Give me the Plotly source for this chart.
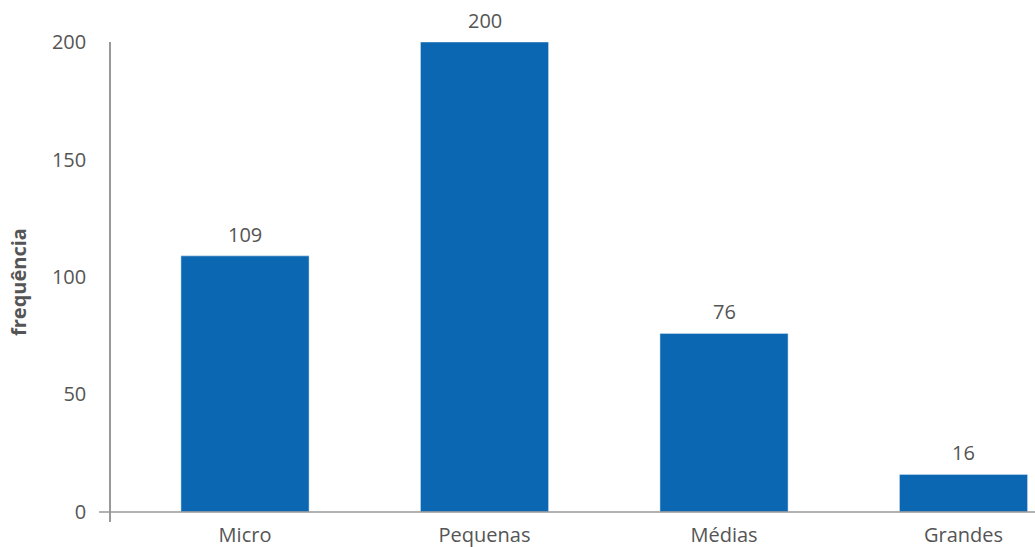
import plotly.graph_objects as go

categories = ["Micro", "Pequenas", "Médias", "Grandes"]
values = [109, 200, 76, 16]
y_ticks = [0, 50, 100, 150, 200]

bar_color = "#0b67b2"
text_color = "#555555"
font_family = "'Open Sans', sans-serif"
fsize = 20

fig = go.Figure(
    go.Bar(
        x=categories,
        y=values,
        marker_color=bar_color,
        width=0.535,
        cliponaxis=False,
    )
)

for c, v in zip(categories, values):
    fig.add_annotation(
        x=c, y=v, text=str(v), showarrow=False,
        xanchor="center", yanchor="bottom", yshift=6,
        font=dict(size=fsize, color=text_color, family=font_family),
    )

fig.update_layout(
    width=1035,
    height=547,
    margin=dict(l=111, r=0, t=42, b=25, autoexpand=False),
    plot_bgcolor="white",
    paper_bgcolor="white",
    showlegend=False,
    font=dict(family=font_family, size=fsize, color=text_color),
)

fig.update_xaxes(
    range=[-0.5595, 3.2985],
    showline=False,
    showgrid=False,
    zeroline=False,
    ticks="",
    ticklabelstandoff=-1,
    tickfont=dict(size=fsize, color=text_color),
    automargin=False,
)

fig.update_yaxes(
    range=[-4.26, 200],
    tickvals=y_ticks,
    showgrid=False,
    zeroline=False,
    showline=True,
    linecolor="#999999",
    linewidth=1.5,
    ticks="",
    ticklabelstandoff=19,
    tickfont=dict(size=fsize, color=text_color),
    automargin=False,
)

fig.add_shape(
    type="line",
    xref="paper",
    yref="y",
    x0=-0.013,
    x1=1,
    y0=0,
    y1=0,
    line=dict(color="#999999", width=1.5),
)

fig.add_annotation(
    text="<b>frequência</b>",
    xref="paper",
    yref="paper",
    x=(18 - 111) / 924,
    y=0.5,
    xanchor="center",
    yanchor="middle",
    textangle=-90,
    showarrow=False,
    font=dict(size=fsize, color=text_color, family=font_family),
)

fig.write_html("out.html")
